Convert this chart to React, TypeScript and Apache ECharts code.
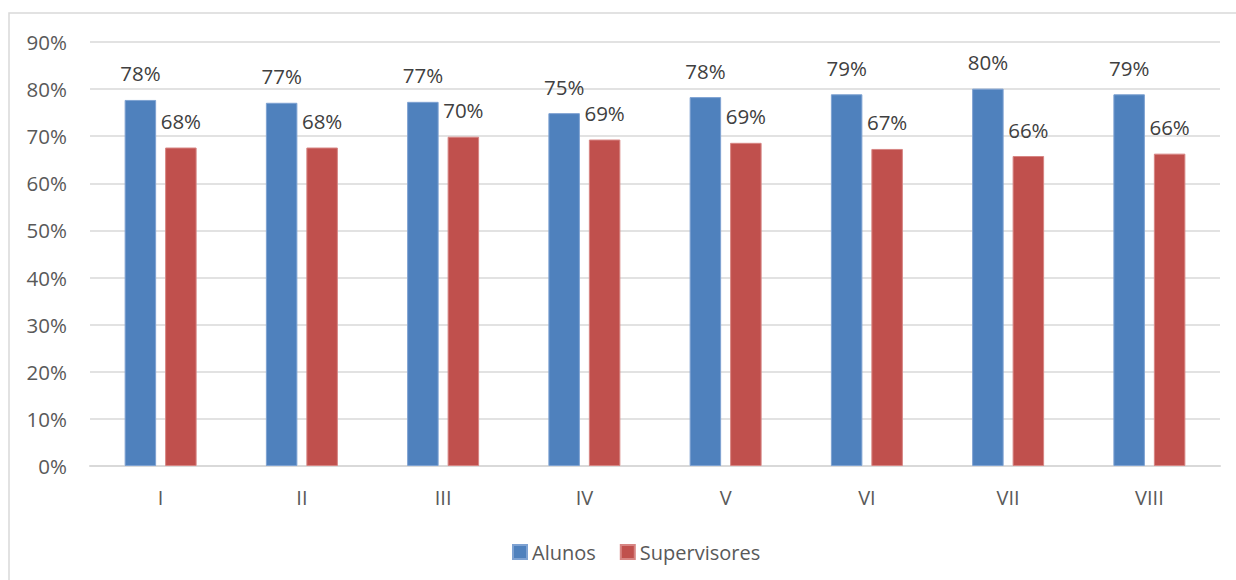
import React, { useEffect, useRef } from "react";
import * as echarts from "echarts";

const categories = ["I", "II", "III", "IV", "V", "VI", "VII", "VIII"];
const alunos = [77.7, 77.1, 77.3, 74.9, 78.3, 78.9, 80.1, 78.9];
const supervisores = [67.6, 67.6, 69.9, 69.3, 68.6, 67.3, 65.8, 66.3];
const seriesNames = ["Alunos", "Supervisores"];

const FONT = "Open Sans";

export default function App() {
  const ref = useRef<HTMLDivElement>(null);
  useEffect(() => {
    const chart = echarts.init(ref.current!, null, { renderer: "svg" });
    const labelStyle = {
      show: true,
      position: "top" as const,
      distance: 16,
      color: "#404040",
      fontSize: 20.5,
      fontFamily: FONT,
      formatter: (p: any) => Math.round(p.value) + "%",
    };
    chart.setOption({
      animation: false,
      backgroundColor: "#ffffff",
      graphic: [
        {
          type: "rect",
          shape: { x: 9, y: 13, width: 1260, height: 620 },
          style: { fill: "none", stroke: "#d9d9d9", lineWidth: 1.5 },
          silent: true,
        },
      ],
      grid: { left: 90, right: 16, top: 42, bottom: 114 },
      legend: {
        data: seriesNames,
        left: 507,
        top: 537,
        itemWidth: 14,
        itemHeight: 14,
        itemGap: 24,
        icon: "rect",
        textStyle: { color: "#595959", fontSize: 20, fontFamily: FONT },
      },
      xAxis: {
        type: "category",
        data: categories,
        axisLine: { lineStyle: { color: "#d9d9d9", width: 2 } },
        axisTick: { show: false },
        axisLabel: { color: "#595959", fontSize: 20, fontFamily: FONT, margin: 21 },
      },
      yAxis: {
        type: "value",
        min: 0,
        max: 90,
        interval: 10,
        axisLine: { show: false },
        axisTick: { show: false },
        splitLine: { lineStyle: { color: "#d9d9d9", width: 1.5 } },
        axisLabel: {
          color: "#595959",
          fontSize: 20.5,
          fontFamily: FONT,
          margin: 23,
          formatter: "{value}%",
        },
      },
      series: [
        {
          name: seriesNames[0],
          type: "bar",
          data: alunos,
          barWidth: 31.5,
          barGap: "28.5%",
          itemStyle: { color: "#4f81bd", borderColor: "#7ea2d2", borderWidth: 1 },
          label: labelStyle,
        },
        {
          name: seriesNames[1],
          type: "bar",
          data: supervisores,
          barWidth: 31.5,
          barGap: "28.5%",
          itemStyle: { color: "#c0504d", borderColor: "#d78583", borderWidth: 1 },
          label: labelStyle,
        },
      ],
    });
    return () => chart.dispose();
  }, []);
  return (
    <div
      ref={ref}
      style={{ position: "absolute", left: 0, top: 0, width: 1236, height: 580 }}
    />
  );
}
